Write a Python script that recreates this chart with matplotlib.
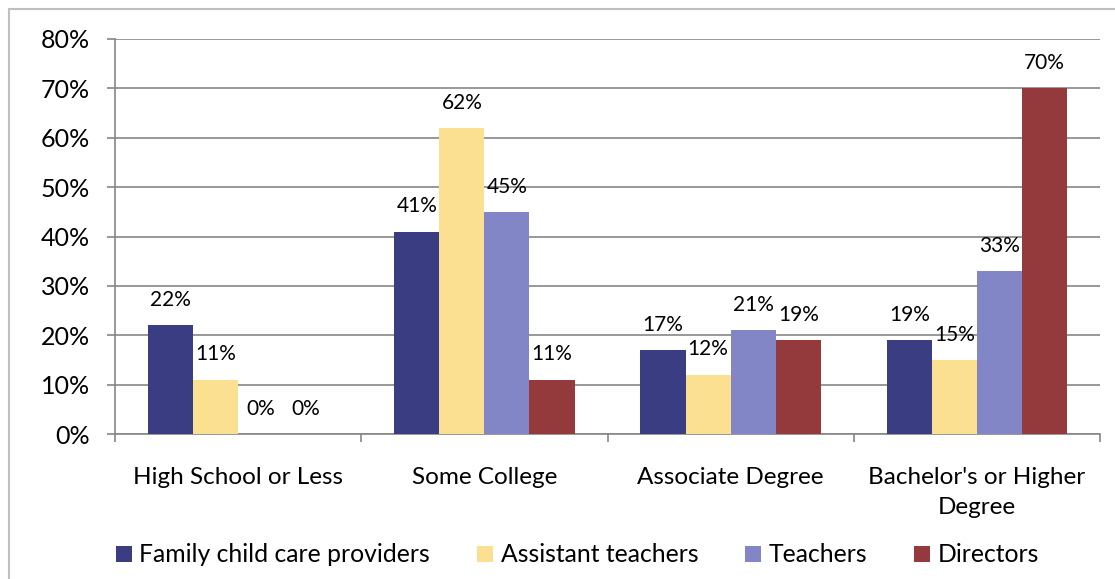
import numpy as np
import matplotlib
matplotlib.use("Agg")
import matplotlib.pyplot as plt
from matplotlib.patches import Rectangle

categories = ["High School or Less", "Some College", "Associate Degree",
              "Bachelor's or Higher\nDegree"]
series_names = ["Family child care providers", "Assistant teachers",
                "Teachers", "Directors"]
family = [22, 41, 17, 19]
assistant = [11, 62, 12, 15]
teachers = [0, 45, 21, 33]
directors = [0, 11, 19, 70]
y_ticks = [0, 10, 20, 30, 40, 50, 60, 70, 80]

colors = ["#3B3D83", "#FCE092", "#8286C6", "#953A3C"]

plt.rcParams["font.family"] = ["Lato", "DejaVu Sans"]

fig = plt.figure(figsize=(11.15, 5.79), dpi=100)
ax = fig.add_axes([115 / 1115, 1 - 434 / 579, 985 / 1115, 395 / 579])

x = np.arange(len(categories))
w = 0.183
all_series = [family, assistant, teachers, directors]
for i, (vals, name) in enumerate(zip(all_series, series_names)):
    pos = x + (i - 1.5) * w
    bars = ax.bar(pos, vals, w, color=colors[i], label=name, zorder=3)
    for b, v in zip(bars, vals):
        ax.annotate("{}%".format(v), (b.get_x() + w / 2, v),
                    xytext=(0, 11), textcoords="offset points",
                    ha="center", va="bottom", fontsize=15, zorder=4)

ax.set_xlim(-0.5, len(categories) - 0.5)
ax.set_ylim(0, 80)
ax.set_yticks(y_ticks)
ax.set_yticklabels(["{}%".format(t) for t in y_ticks], fontsize=18)
ax.yaxis.grid(True, color="#868686", linewidth=1.2, zorder=0)

ax.set_xticks(x)
ax.set_xticklabels(categories, fontsize=17.5, linespacing=1.5)
ax.set_xticks(np.arange(len(categories) + 1) - 0.5, minor=True)
ax.tick_params(axis="x", which="major", length=0, pad=24)
ax.tick_params(axis="x", which="minor", length=6, width=1.2, color="#868686")
ax.tick_params(axis="y", length=6, width=1.2, color="#868686", pad=12)

for s in ["top", "right"]:
    ax.spines[s].set_visible(False)
for s in ["left", "bottom"]:
    ax.spines[s].set_color("#868686")
    ax.spines[s].set_linewidth(1.2)

fig.legend(loc="center", bbox_to_anchor=(0.518, 1 - 555 / 579), ncol=4,
           frameon=False, fontsize=17.8, handlelength=0.65, handleheight=0.65,
           handletextpad=0.3, columnspacing=1.9)

fig.patches.append(Rectangle((9 / 1115, -0.1), 1.2, 1 - 9 / 579 + 0.1,
                             transform=fig.transFigure, fill=False,
                             edgecolor="#BFBFBF", linewidth=1.5))

fig.savefig("out.png", dpi=100)
